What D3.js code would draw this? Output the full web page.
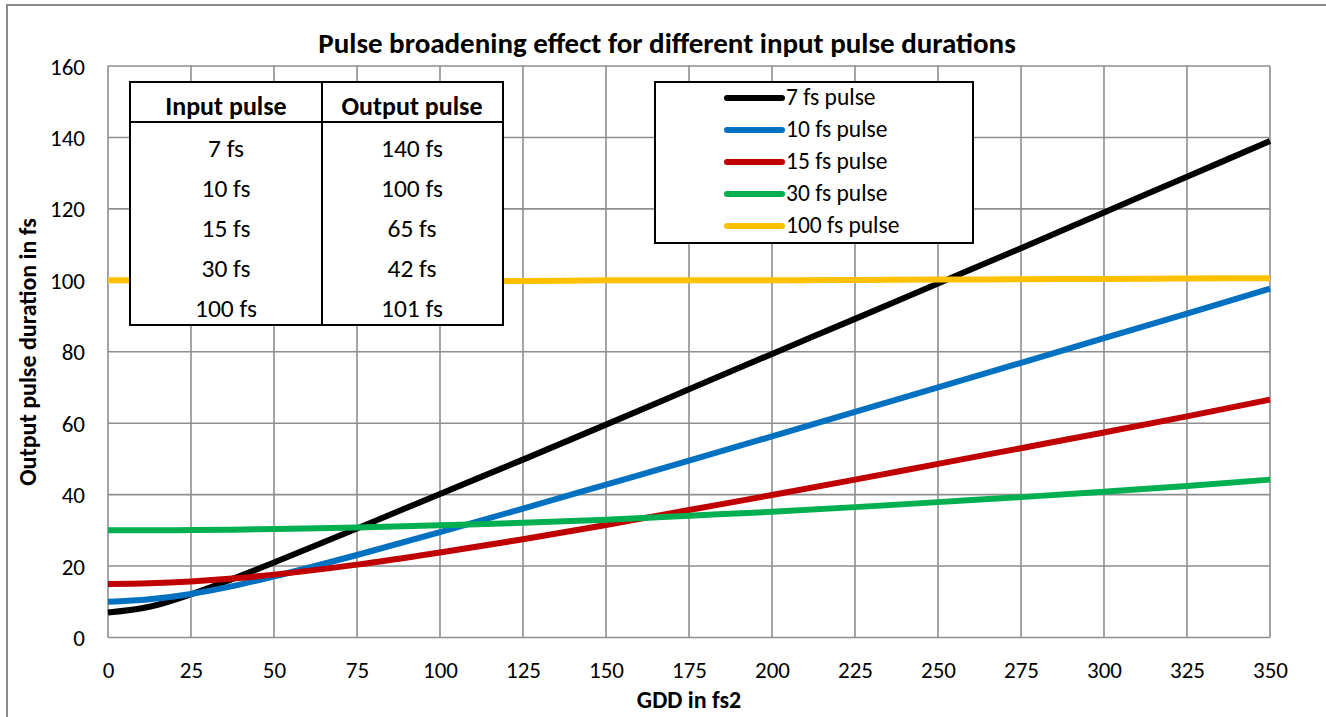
<!DOCTYPE html>
<html><head><meta charset="utf-8">
<script src="https://cdn.jsdelivr.net/npm/d3@7"></script>
<style>body{margin:0;background:#fff}svg{display:block}text{font-family:Carlito,Lato,"Open Sans",sans-serif;fill:#000}</style>
</head><body>
<svg id="c" width="1326" height="717"></svg>
<script>
const gdd = [0,12.5,25,37.5,50,75,100,125,150,175,200,225,250,275,300,325,350];
const s7   = [7,8.6,12.1,16.4,21,30.5,40.2,49.8,59.6,69.5,79.4,89.2,99.1,109,119,129,139];
const s10  = [10,10.7,12.2,14.4,17.1,23.1,29.5,36.1,42.8,49.5,56.3,63.2,70,76.9,83.8,90.7,97.7];
const s15  = [15,15.2,15.7,16.5,17.6,20.4,23.8,27.5,31.5,35.7,39.9,44.2,48.6,53,57.4,61.9,66.6];
const s30  = [30,30,30.1,30.2,30.4,30.8,31.4,32.1,33,34.1,35.2,36.5,37.9,39.3,40.8,42.4,44.2];
const s100 = [100,100,100,100,100,100,100,99.8,100,100,100,100.1,100.2,100.3,100.4,100.5,100.6];
const seriesNames = ["7 fs pulse","10 fs pulse","15 fs pulse","30 fs pulse","100 fs pulse"];
const seriesColors = ["#000000","#0070C0","#C00000","#00B050","#FFC000"];
const xTicks = [0,25,50,75,100,125,150,175,200,225,250,275,300,325,350];
const yTicks = [0,20,40,60,80,100,120,140,160];
const tableHeader = ["Input pulse","Output pulse"];
const tableInput = ["7 fs","10 fs","15 fs","30 fs","100 fs"];
const tableOutput = ["140 fs","100 fs","65 fs","42 fs","101 fs"];
const title = "Pulse broadening effect for different input pulse durations";
const xTitle = "GDD in fs2";
const yTitle = "Output pulse duration in fs";

const svg = d3.select("#c");
svg.append("rect").attr("x",7).attr("y",5).attr("width",1340).attr("height",730)
  .attr("fill","#fff").attr("stroke","#8c8c8c").attr("stroke-width",2);

const L=108,R=1270,T=66,B=637.5;
const x = d3.scaleLinear().domain([0,350]).range([L,R]);
const y = d3.scaleLinear().domain([0,160]).range([B,T]);
const grid = "#8e8e8e";

// grid
svg.append("g").selectAll("line").data(xTicks).join("line")
  .attr("x1",d=>x(d)).attr("x2",d=>x(d)).attr("y1",T).attr("y2",B)
  .attr("stroke",grid).attr("stroke-width",1.6);
svg.append("g").selectAll("line").data(yTicks).join("line")
  .attr("x1",L).attr("x2",R).attr("y1",d=>y(d)).attr("y2",d=>y(d))
  .attr("stroke",grid).attr("stroke-width",1.6);

// axes labels
const xa = svg.append("g").attr("transform",`translate(0,${B})`).call(d3.axisBottom(x).tickValues(xTicks).tickSize(0).tickPadding(0));
xa.select(".domain").remove();
xa.selectAll("text").attr("dy",null).attr("y",40).attr("font-size",23).attr("font-family","Carlito,Lato,sans-serif").attr("fill","#000");
const ya = svg.append("g").attr("transform",`translate(${L},0)`).call(d3.axisLeft(y).tickValues(yTicks).tickSize(0).tickPadding(0));
ya.select(".domain").remove();
ya.selectAll("text").attr("dy","0.35em").attr("x",-23).attr("font-size",23).attr("font-family","Carlito,Lato,sans-serif").attr("fill","#000");

// lines
const allSeries=[s7,s10,s15,s30,s100];
const line = d3.line().x((d,i)=>x(gdd[i])).y(d=>y(d)).curve(d3.curveMonotoneX);
allSeries.forEach((s,k)=>{
  svg.append("path").datum(s).attr("d",line).attr("fill","none")
    .attr("stroke",seriesColors[k]).attr("stroke-width",6).attr("stroke-linejoin","round");
});

// titles
svg.append("text").attr("x",667).attr("y",53).attr("text-anchor","middle")
  .attr("font-size",29).attr("font-weight","bold").text(title);
svg.append("text").attr("x",689).attr("y",708).attr("text-anchor","middle")
  .attr("font-size",24).attr("font-weight","bold").text(xTitle);
svg.append("text").attr("transform","translate(36,352) rotate(-90)").attr("text-anchor","middle")
  .attr("font-size",24).attr("font-weight","bold").text(yTitle);

// table
const tb = svg.append("g");
tb.append("rect").attr("x",130).attr("y",82).attr("width",373).attr("height",243)
  .attr("fill","#fff").attr("stroke","#000").attr("stroke-width",2);
tb.append("line").attr("x1",322).attr("x2",322).attr("y1",82).attr("y2",325).attr("stroke","#000").attr("stroke-width",2);
tb.append("line").attr("x1",130).attr("x2",503).attr("y1",122).attr("y2",122).attr("stroke","#000").attr("stroke-width",2);
const colX=[226,412];
tableHeader.forEach((h,i)=>tb.append("text").attr("x",colX[i]).attr("y",115).attr("text-anchor","middle")
  .attr("font-size",26).attr("font-weight","bold").text(h));
tableInput.forEach((t,i)=>{
  tb.append("text").attr("x",colX[0]).attr("y",157+i*40).attr("text-anchor","middle").attr("font-size",25.5).text(t);
  tb.append("text").attr("x",colX[1]).attr("y",157+i*40).attr("text-anchor","middle").attr("font-size",25.5).text(tableOutput[i]);
});

// legend
const lg = svg.append("g");
lg.append("rect").attr("x",655).attr("y",82).attr("width",318).attr("height",161)
  .attr("fill","#fff").attr("stroke","#000").attr("stroke-width",2);
seriesNames.forEach((n,i)=>{
  const yy = 98 + i*32;
  lg.append("line").attr("x1",727).attr("x2",782).attr("y1",yy).attr("y2",yy)
    .attr("stroke",seriesColors[i]).attr("stroke-width",6).attr("stroke-linecap","round");
  lg.append("text").attr("x",786).attr("y",yy+7).attr("font-size",23.5).text(n);
});
</script>
</body></html>
